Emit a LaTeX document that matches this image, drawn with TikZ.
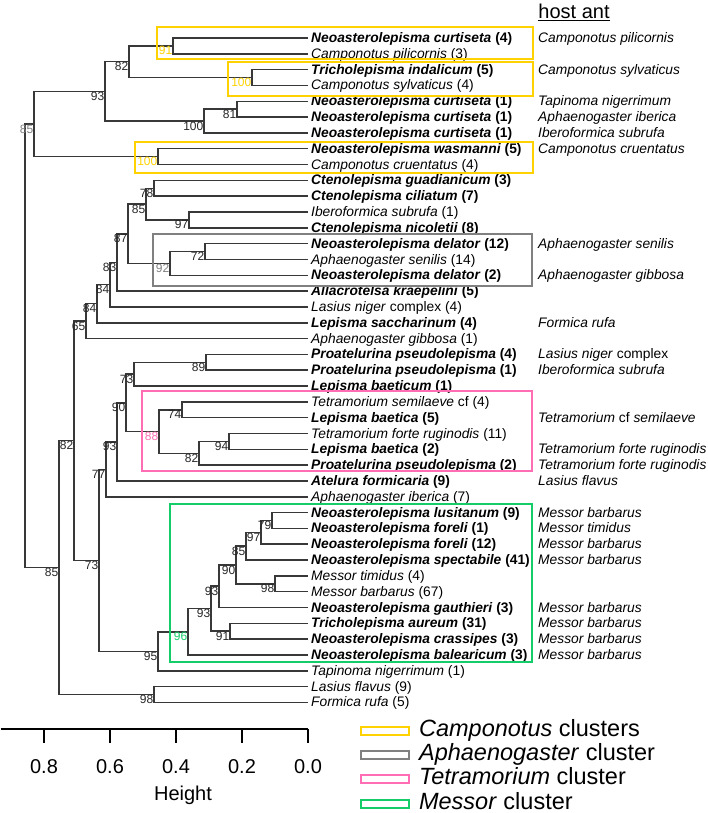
\documentclass[tikz,border=0pt]{standalone}
\usepackage{fontspec}
\setmainfont{Liberation Sans}
\usetikzlibrary{positioning}
\definecolor{campo}{RGB}{255,210,0}
\definecolor{aphae}{RGB}{128,128,128}
\definecolor{tetra}{RGB}{255,110,180}
\definecolor{messo}{RGB}{20,205,105}
\newcommand{\silv}[1]{\textbf{\textit{#1}}}
\newcommand{\antsp}[1]{\textit{#1}}
\tikzset{branch/.style={draw=black!78,line width=1.45pt}}
\tikzset{leaf/.style={anchor=west,inner sep=3pt,font=\fontsize{13.8}{15}\selectfont,text height=10pt,text depth=1pt}}
\tikzset{boot/.style={anchor=north east,inner sep=0.5pt,font=\fontsize{12}{13}\selectfont,text=black!85}}
\tikzset{clusterbox/.style={line width=1.8pt}}
\tikzset{legtext/.style={anchor=west,inner sep=0pt,font=\fontsize{23.5}{25}\selectfont,text height=16pt,text depth=5pt}}
\tikzset{axislabel/.style={inner sep=0pt,font=\fontsize{20}{22}\selectfont}}

\begin{document}
\begin{tikzpicture}[x=1pt,y=-1pt]
	\useasboundingbox (0,0) rectangle (708,813);
	% leaves
	\node[leaf] (l1) at (308,38.0) {\silv{Neoasterolepisma curtiseta} \textbf{(4)}};
	\node[leaf] (l2) at (308,53.8) {\antsp{Camponotus pilicornis} (3)};
	\node[leaf] (l3) at (308,69.6) {\silv{Tricholepisma indalicum} \textbf{(5)}};
	\node[leaf] (l4) at (308,85.5) {\antsp{Camponotus sylvaticus} (4)};
	\node[leaf] (l5) at (308,101.3) {\silv{Neoasterolepisma curtiseta} \textbf{(1)}};
	\node[leaf] (l6) at (308,117.1) {\silv{Neoasterolepisma curtiseta} \textbf{(1)}};
	\node[leaf] (l7) at (308,132.9) {\silv{Neoasterolepisma curtiseta} \textbf{(1)}};
	\node[leaf] (l8) at (308,148.7) {\silv{Neoasterolepisma wasmanni} \textbf{(5)}};
	\node[leaf] (l9) at (308,164.6) {\antsp{Camponotus cruentatus} (4)};
	\node[leaf] (l10) at (308,180.4) {\silv{Ctenolepisma guadianicum} \textbf{(3)}};
	\node[leaf] (l11) at (308,196.2) {\silv{Ctenolepisma ciliatum} \textbf{(7)}};
	\node[leaf] (l12) at (308,212.0) {\antsp{Iberoformica subrufa} (1)};
	\node[leaf] (l13) at (308,227.8) {\silv{Ctenolepisma nicoletii} \textbf{(8)}};
	\node[leaf] (l14) at (308,243.7) {\silv{Neoasterolepisma delator} \textbf{(12)}};
	\node[leaf] (l15) at (308,259.5) {\antsp{Aphaenogaster senilis} (14)};
	\node[leaf] (l16) at (308,275.3) {\silv{Neoasterolepisma delator} \textbf{(2)}};
	\node[leaf] (l17) at (308,291.1) {\silv{Allacrotelsa kraepelini} \textbf{(5)}};
	\node[leaf] (l18) at (308,306.9) {\antsp{Lasius niger} complex (4)};
	\node[leaf] (l19) at (308,322.8) {\silv{Lepisma saccharinum} \textbf{(4)}};
	\node[leaf] (l20) at (308,338.6) {\antsp{Aphaenogaster gibbosa} (1)};
	\node[leaf] (l21) at (308,354.4) {\silv{Proatelurina pseudolepisma} \textbf{(4)}};
	\node[leaf] (l22) at (308,370.2) {\silv{Proatelurina pseudolepisma} \textbf{(1)}};
	\node[leaf] (l23) at (308,386.0) {\silv{Lepisma baeticum} \textbf{(1)}};
	\node[leaf] (l24) at (308,401.8) {\antsp{Tetramorium semilaeve} cf (4)};
	\node[leaf] (l25) at (308,417.7) {\silv{Lepisma baetica} \textbf{(5)}};
	\node[leaf] (l26) at (308,433.5) {\antsp{Tetramorium forte ruginodis} (11)};
	\node[leaf] (l27) at (308,449.3) {\silv{Lepisma baetica} \textbf{(2)}};
	\node[leaf] (l28) at (308,465.1) {\silv{Proatelurina pseudolepisma} \textbf{(2)}};
	\node[leaf] (l29) at (308,480.9) {\silv{Atelura formicaria} \textbf{(9)}};
	\node[leaf] (l30) at (308,496.8) {\antsp{Aphaenogaster iberica} (7)};
	\node[leaf] (l31) at (308,512.6) {\silv{Neoasterolepisma lusitanum} \textbf{(9)}};
	\node[leaf] (l32) at (308,528.4) {\silv{Neoasterolepisma foreli} \textbf{(1)}};
	\node[leaf] (l33) at (308,544.2) {\silv{Neoasterolepisma foreli} \textbf{(12)}};
	\node[leaf] (l34) at (308,560.0) {\silv{Neoasterolepisma spectabile} \textbf{(41)}};
	\node[leaf] (l35) at (308,575.8) {\antsp{Messor timidus} (4)};
	\node[leaf] (l36) at (308,591.7) {\antsp{Messor barbarus} (67)};
	\node[leaf] (l37) at (308,607.5) {\silv{Neoasterolepisma gauthieri} \textbf{(3)}};
	\node[leaf] (l38) at (308,623.3) {\silv{Tricholepisma aureum} \textbf{(31)}};
	\node[leaf] (l39) at (308,639.1) {\silv{Neoasterolepisma crassipes} \textbf{(3)}};
	\node[leaf] (l40) at (308,654.9) {\silv{Neoasterolepisma balearicum} \textbf{(3)}};
	\node[leaf] (l41) at (308,670.8) {\antsp{Tapinoma nigerrimum} (1)};
	\node[leaf] (l42) at (308,686.6) {\antsp{Lasius flavus} (9)};
	\node[leaf] (l43) at (308,702.4) {\antsp{Formica rufa} (5)};

	% host ant column
	\node[inner sep=0pt,font=\fontsize{20}{22}\selectfont] (hdr) at (574,12) {\underline{host ant}};
	\node[leaf] (h1) at (535,38.0) {\antsp{Camponotus pilicornis}};
	\node[leaf] (h3) at (535,69.6) {\antsp{Camponotus sylvaticus}};
	\node[leaf] (h5) at (535,101.3) {\antsp{Tapinoma nigerrimum}};
	\node[leaf] (h6) at (535,117.1) {\antsp{Aphaenogaster iberica}};
	\node[leaf] (h7) at (535,132.9) {\antsp{Iberoformica subrufa}};
	\node[leaf] (h8) at (535,148.7) {\antsp{Camponotus cruentatus}};
	\node[leaf] (h14) at (535,243.7) {\antsp{Aphaenogaster senilis}};
	\node[leaf] (h16) at (535,275.3) {\antsp{Aphaenogaster gibbosa}};
	\node[leaf] (h19) at (535,322.8) {\antsp{Formica rufa}};
	\node[leaf] (h21) at (535,354.4) {\antsp{Lasius niger} complex};
	\node[leaf] (h22) at (535,370.2) {\antsp{Iberoformica subrufa}};
	\node[leaf] (h25) at (535,417.7) {\antsp{Tetramorium} cf \antsp{semilaeve}};
	\node[leaf] (h27) at (535,449.3) {\antsp{Tetramorium forte ruginodis}};
	\node[leaf] (h28) at (535,465.1) {\antsp{Tetramorium forte ruginodis}};
	\node[leaf] (h29) at (535,480.9) {\antsp{Lasius flavus}};
	\node[leaf] (h31) at (535,512.6) {\antsp{Messor barbarus}};
	\node[leaf] (h32) at (535,528.4) {\antsp{Messor timidus}};
	\node[leaf] (h33) at (535,544.2) {\antsp{Messor barbarus}};
	\node[leaf] (h34) at (535,560.0) {\antsp{Messor barbarus}};
	\node[leaf] (h37) at (535,607.5) {\antsp{Messor barbarus}};
	\node[leaf] (h38) at (535,623.3) {\antsp{Messor barbarus}};
	\node[leaf] (h39) at (535,639.1) {\antsp{Messor barbarus}};
	\node[leaf] (h40) at (535,654.9) {\antsp{Messor barbarus}};

	% merge points
	\coordinate (nA) at (173,45.9);
	\coordinate (nB) at (252,77.5);
	\coordinate (nAB) at (129,61.7);
	\coordinate (nC) at (237,109.2);
	\coordinate (nD) at (204,121.0);
	\coordinate (nABCD) at (105,91.4);
	\coordinate (nE) at (158,156.6);
	\coordinate (nTop) at (34,124.0);
	\coordinate (nG) at (154,188.3);
	\coordinate (nH) at (189,219.9);
	\coordinate (nGH) at (146,204.1);
	\coordinate (nI) at (205,251.6);
	\coordinate (nJ) at (170,263.4);
	\coordinate (nK) at (128,233.8);
	\coordinate (nL) at (117,262.4);
	\coordinate (nM) at (110,284.7);
	\coordinate (nN) at (97,303.7);
	\coordinate (nO) at (86,321.1);
	\coordinate (nQ) at (206,362.3);
	\coordinate (nR) at (134,374.2);
	\coordinate (nS) at (182,409.8);
	\coordinate (nT) at (229,441.4);
	\coordinate (nU) at (199,453.3);
	\coordinate (nV) at (159,431.5);
	\coordinate (nW) at (126,402.8);
	\coordinate (nX) at (117,441.9);
	\coordinate (nY) at (106,469.3);
	\coordinate (nZa) at (272,520.5);
	\coordinate (nZb) at (261,532.4);
	\coordinate (nZc) at (246,546.2);
	\coordinate (nZd) at (275,583.8);
	\coordinate (nZe) at (236,565.0);
	\coordinate (nZf) at (219,586.2);
	\coordinate (nZg) at (230,631.2);
	\coordinate (nZh) at (211,608.7);
	\coordinate (nZi) at (188,631.8);
	\coordinate (nZj) at (158,651.3);
	\coordinate (nP) at (99,560.3);
	\coordinate (nF) at (74,440.7);
	\coordinate (nLF) at (154,694.5);
	\coordinate (nBig) at (59,567.6);
	\coordinate (nRoot) at (25,345.8);

	\draw[branch]
		(nA) |- (l1.west) (nA) |- (l2.west)
		(nB) |- (l3.west) (nB) |- (l4.west)
		(nAB) |- (nA) (nAB) |- (nB)
		(nC) |- (l5.west) (nC) |- (l6.west)
		(nD) |- (nC) (nD) |- (l7.west)
		(nABCD) |- (nAB) (nABCD) |- (nD)
		(nE) |- (l8.west) (nE) |- (l9.west)
		(nTop) |- (nABCD) (nTop) |- (nE)
		(nG) |- (l10.west) (nG) |- (l11.west)
		(nH) |- (l12.west) (nH) |- (l13.west)
		(nGH) |- (nG) (nGH) |- (nH)
		(nI) |- (l14.west) (nI) |- (l15.west)
		(nJ) |- (nI) (nJ) |- (l16.west)
		(nK) |- (nGH) (nK) |- (nJ)
		(nL) |- (nK) (nL) |- (l17.west)
		(nM) |- (nL) (nM) |- (l18.west)
		(nN) |- (nM) (nN) |- (l19.west)
		(nO) |- (nN) (nO) |- (l20.west)
		(nQ) |- (l21.west) (nQ) |- (l22.west)
		(nR) |- (nQ) (nR) |- (l23.west)
		(nS) |- (l24.west) (nS) |- (l25.west)
		(nT) |- (l26.west) (nT) |- (l27.west)
		(nU) |- (nT) (nU) |- (l28.west)
		(nV) |- (nS) (nV) |- (nU)
		(nW) |- (nR) (nW) |- (nV)
		(nX) |- (nW) (nX) |- (l29.west)
		(nY) |- (nX) (nY) |- (l30.west)
		(nZa) |- (l31.west) (nZa) |- (l32.west)
		(nZb) |- (nZa) (nZb) |- (l33.west)
		(nZc) |- (nZb) (nZc) |- (l34.west)
		(nZd) |- (l35.west) (nZd) |- (l36.west)
		(nZe) |- (nZc) (nZe) |- (nZd)
		(nZf) |- (nZe) (nZf) |- (l37.west)
		(nZg) |- (l38.west) (nZg) |- (l39.west)
		(nZh) |- (nZf) (nZh) |- (nZg)
		(nZi) |- (nZh) (nZi) |- (l40.west)
		(nZj) |- (nZi) (nZj) |- (l41.west)
		(nP) |- (nY) (nP) |- (nZj)
		(nF) |- (nO) (nF) |- (nP)
		(nLF) |- (l42.west) (nLF) |- (l43.west)
		(nBig) |- (nF) (nBig) |- (nLF)
		(nRoot) |- (nTop) (nRoot) |- (nBig);

	% bootstrap values
	\node[boot,text=campo] (bA) at (nA) {91};
	\node[boot,text=campo] (bB) at (nB) {100};
	\node[boot] (bAB) at (nAB) {82};
	\node[boot] (bC) at (nC) {81};
	\node[boot] (bD) at (nD) {100};
	\node[boot] (bABCD) at (nABCD) {93};
	\node[boot,text=campo] (bE) at (nE) {100};
	\node[boot,text=aphae] (bTop) at (nTop) {85};
	\node[boot] (bG) at (nG) {78};
	\node[boot] (bH) at (nH) {97};
	\node[boot] (bGH) at (nGH) {85};
	\node[boot] (bI) at (nI) {72};
	\node[boot,text=aphae] (bJ) at (nJ) {92};
	\node[boot] (bK) at (nK) {87};
	\node[boot] (bL) at (nL) {83};
	\node[boot] (bM) at (nM) {84};
	\node[boot] (bN) at (nN) {84};
	\node[boot] (bO) at (nO) {65};
	\node[boot] (bQ) at (nQ) {89};
	\node[boot] (bR) at (nR) {73};
	\node[boot] (bS) at (nS) {74};
	\node[boot] (bT) at (nT) {94};
	\node[boot] (bU) at (nU) {82};
	\node[boot,text=tetra] (bV) at (nV) {88};
	\node[boot] (bW) at (nW) {90};
	\node[boot] (bX) at (nX) {93};
	\node[boot] (bY) at (nY) {77};
	\node[boot] (bZa) at (nZa) {79};
	\node[boot] (bZb) at (nZb) {97};
	\node[boot] (bZc) at (nZc) {85};
	\node[boot] (bZd) at (nZd) {98};
	\node[boot] (bZe) at (nZe) {90};
	\node[boot] (bZf) at (nZf) {93};
	\node[boot] (bZg) at (nZg) {91};
	\node[boot] (bZh) at (nZh) {93};
	\node[boot,text=messo] (bZi) at (nZi) {96};
	\node[boot] (bZj) at (nZj) {95};
	\node[boot] (bP) at (nP) {73};
	\node[boot] (bF) at (nF) {82};
	\node[boot] (bLF) at (nLF) {98};
	\node[boot] (bBig) at (nBig) {85};

	% cluster boxes
	\draw[clusterbox,draw=campo] (157,27) rectangle (533,59);
	\draw[clusterbox,draw=campo] (228,62) rectangle (533,96);
	\draw[clusterbox,draw=campo] (135,142) rectangle (533,173);
	\draw[clusterbox,draw=aphae] (153,234) rectangle (532,286);
	\draw[clusterbox,draw=tetra] (142,391) rectangle (532,471);
	\draw[clusterbox,draw=messo] (170,504) rectangle (532,662);

	% height axis
	\draw[line width=1.3pt] (0.7,729) -- (308,729)
		(44,729) -- (44,743) (110,729) -- (110,743) (176,729) -- (176,743)
		(242,729) -- (242,743) (308,729) -- (308,743);
	\node[axislabel] (t08) at (44,767) {0.8};
	\node[axislabel] (t06) at (110,767) {0.6};
	\node[axislabel] (t04) at (176,767) {0.4};
	\node[axislabel] (t02) at (242,767) {0.2};
	\node[axislabel] (t00) at (308,767) {0.0};
	\node[axislabel] (ht) at (183,795) {Height};

	% legend
	\node[draw=campo,clusterbox,minimum width=48pt,minimum height=8pt,inner sep=0pt] (kCamp) at (385,731) {};
	\node[draw=aphae,clusterbox,minimum width=48pt,minimum height=8pt,inner sep=0pt] (kAphae) at (385,755) {};
	\node[draw=tetra,clusterbox,minimum width=48pt,minimum height=8pt,inner sep=0pt] (kTetra) at (385,779) {};
	\node[draw=messo,clusterbox,minimum width=48pt,minimum height=8pt,inner sep=0pt] (kMesso) at (385,804) {};
	\node[legtext] (tCamp) [right=9pt of kCamp] {\antsp{Camponotus} clusters};
	\node[legtext] (tAphae) [right=9pt of kAphae] {\antsp{Aphaenogaster} cluster};
	\node[legtext] (tTetra) [right=9pt of kTetra] {\antsp{Tetramorium} cluster};
	\node[legtext] (tMesso) [right=9pt of kMesso] {\antsp{Messor} cluster};
\end{tikzpicture}
\end{document}
